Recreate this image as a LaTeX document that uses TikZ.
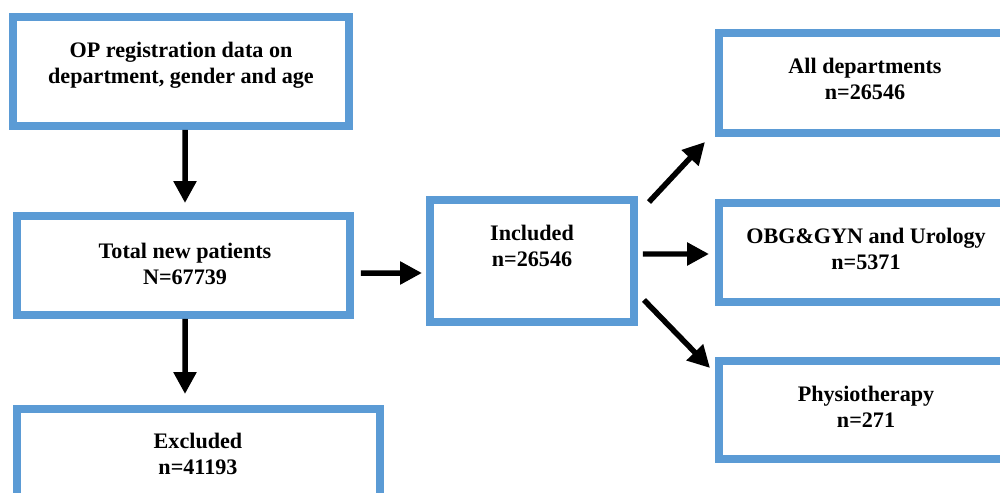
\documentclass[tikz,border=0pt]{standalone}
\usepackage{fontspec}
\setmainfont{Liberation Serif}
\usetikzlibrary{arrows.meta,calc}
\definecolor{boxblue}{RGB}{91,155,213}

\begin{document}
\begin{tikzpicture}[x=0.02cm,y=-0.02cm,
  box/.style={draw=boxblue,line width=0.16cm,inner sep=0pt},
  txt/.style={align=center,inner sep=0pt,font=\fontsize{12.6}{14.8}\selectfont\bfseries},
  arr/.style={-{Triangle[width=0.44cm,length=0.44cm]},line width=0.11cm}]
  \useasboundingbox (0,0) rectangle (1000,493);
  \clip (0,0) rectangle (1000,493);
  \node[box,minimum width=6.72cm,minimum height=2.18cm] (op) at (181,71.5) {};
  \node[box,minimum width=6.66cm,minimum height=1.98cm] (total) at (183.5,265.5) {};
  \node[box,minimum width=7.26cm,minimum height=1.98cm] (excl) at (198.5,458.5) {};
  \node[box,minimum width=4.08cm,minimum height=2.44cm] (incl) at (532,261) {};
  \node[box,minimum width=5.88cm,minimum height=2cm] (alld) at (865.6,83) {};
  \node[box,minimum width=5.88cm,minimum height=1.98cm] (obg) at (865.6,252.5) {};
  \node[box,minimum width=5.88cm,minimum height=1.96cm] (phys) at (865.6,410) {};
  \node[txt] (optxt) at (181,65.3) {OP registration data on\\department, gender and age};
  \node[txt] (totaltxt) at (185,263.5) {Total new patients\\N=67739};
  \node[txt] (excltxt) at (198,453.5) {Excluded\\n=41193};
  \node[txt] (incltxt) at (532,246) {Included\\n=26546};
  \node[txt] (alldtxt) at (865,78.5) {All departments\\n=26546};
  \node[txt] (obgtxt) at (866,248.5) {OBG\&GYN and Urology\\n=5371};
  \node[txt] (phystxt) at (866,407) {Physiotherapy\\n=271};
  \draw[arr] ($(op.south)+(4,0)$) -- ($(total.north)+(1.5,-9)$);
  \draw[arr] ($(total.south)+(1.5,0)$) -- ($(excl.north)+(-13.5,-11)$);
  \draw[arr] ($(total.east)+(7,7.5)$) -- ($(incl.west)+(-4,12)$);
  \draw[arr] ($(incl.north east)+(11,6)$) -- ($(alld.south west)+(-9.6,5)$);
  \draw[arr] ($(incl.east)+(5,-7)$) -- ($(obg.west)+(-5.6,1.5)$);
  \draw[arr] ($(incl.south east)+(6,-26)$) -- ($(phys.north west)+(-4.6,11)$);
\end{tikzpicture}
\end{document}
